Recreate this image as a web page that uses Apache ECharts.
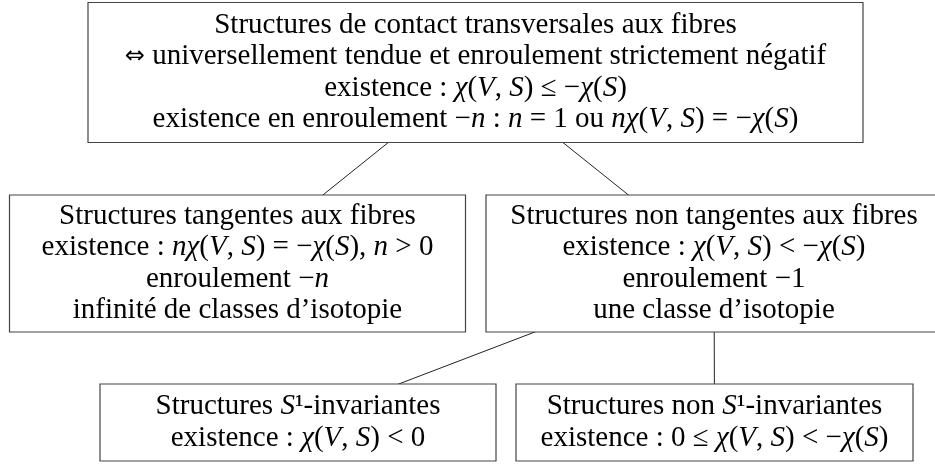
<!DOCTYPE html>
<html>
<head>
<meta charset="utf-8">
<script src="https://cdn.jsdelivr.net/npm/echarts@6/dist/echarts.min.js"></script>
<style>
    html, body { margin: 0; padding: 0; background: #fff; }
    #main { width: 935px; height: 465px; }
</style>
</head>
<body>
<div id="main"></div>
<script>
// texte de chaque boite, les parties entre $ $ sont en mathematiques (lettres en italique)
var boxTexts = [
    [
        "Structures de contact transversales aux fibres",
        "$⇔$ universellement tendue et enroulement strictement négatif",
        "existence : $χ(V, S) ≤ −χ(S)$",
        "existence en enroulement $−n$ : $n = 1$ ou $nχ(V, S) = −χ(S)$"
    ],
    [
        "Structures tangentes aux fibres",
        "existence : $nχ(V, S) = −χ(S)$, $n > 0$",
        "enroulement $−n$",
        "infinité de classes d’isotopie"
    ],
    [
        "Structures non tangentes aux fibres",
        "existence : $χ(V, S) < −χ(S)$",
        "enroulement $−1$",
        "une classe d’isotopie"
    ],
    [
        "Structures $S$¹-invariantes",
        "existence : $χ(V, S) < 0$"
    ],
    [
        "Structures non $S$¹-invariantes",
        "existence : $0 ≤ χ(V, S) < −χ(S)$"
    ]
];

// centre x, centre y, largeur, hauteur (en pixels de la figure)
var boxCenterX = [475.5, 237.5, 714, 298, 714.5];
var boxCenterY = [72.5, 263.5, 263.5, 422.5, 422.5];
var boxWidth = [775, 456, 456, 396, 397];
var boxHeight = [140, 137, 137, 77, 77];

// arbre : parent -> enfant
var edges = [[0, 1], [0, 2], [2, 3], [2, 4]];

var FONT = '"Liberation Serif", "DejaVu Serif", serif';

function toRich(line) {
    var parts = line.split("$");
    var out = "";
    for (var k = 0; k < parts.length; k++) {
        if (k % 2 === 1) {
            out += parts[k].replace(/[A-Za-zχ]+/g, function (m) {
                return "{i|" + m + "}";
            }).replace(/⇔/g, "{s|⇔}");
        } else {
            out += parts[k];
        }
    }
    return out;
}

var boxData = [];
for (var i = 0; i < boxTexts.length; i++) {
    boxData.push({
        value: [boxCenterX[i], boxCenterY[i], boxWidth[i], boxHeight[i]],
        label: boxTexts[i].map(toRich).join("\n")
    });
}

var edgeData = edges.map(function (e) {
    return {
        coords: [
            [boxCenterX[e[0]], boxCenterY[e[0]]],
            [boxCenterX[e[1]], boxCenterY[e[1]]]
        ]
    };
});

var myChart = echarts.init(document.getElementById('main'));

var option = {
    animation: false,
    backgroundColor: '#fff',
    grid: {left: 0, right: 0, top: 0, bottom: 0},
    xAxis: {type: 'value', min: 0, max: 935, show: false},
    yAxis: {type: 'value', min: 0, max: 465, inverse: true, show: false},
    series: [
        {
            type: 'lines',
            coordinateSystem: 'cartesian2d',
            z: 1,
            silent: true,
            lineStyle: {color: '#222', width: 1, opacity: 1},
            data: edgeData
        },
        {
            type: 'custom',
            z: 2,
            silent: true,
            data: boxData,
            renderItem: function (params, api) {
                var idx = params.dataIndex;
                var c = api.coord([api.value(0), api.value(1)]);
                var w = api.size([api.value(2), 0])[0];
                var h = api.size([0, api.value(3)])[1];
                return {
                    type: 'group',
                    children: [
                        {
                            type: 'rect',
                            shape: {x: c[0] - w / 2, y: c[1] - h / 2, width: w, height: h},
                            style: {fill: '#fff', stroke: '#444', lineWidth: 1.2}
                        },
                        {
                            type: 'text',
                            x: c[0],
                            y: c[1],
                            style: {
                                text: boxData[idx].label,
                                fill: '#000',
                                fontFamily: FONT,
                                fontSize: 29,
                                lineHeight: 31.5,
                                align: 'center',
                                verticalAlign: 'middle',
                                rich: {
                                    i: {fontFamily: FONT, fontSize: 29, fontStyle: 'italic', lineHeight: 31.5, fill: '#000'},
                                    s: {fontFamily: '"DejaVu Sans", sans-serif', fontSize: 24, lineHeight: 31.5, fill: '#000'}
                                }
                            }
                        }
                    ]
                };
            }
        }
    ]
};
myChart.setOption(option);
</script>
</body>
</html>
